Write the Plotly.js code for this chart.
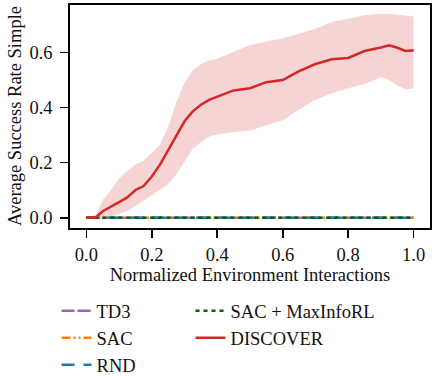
<!DOCTYPE html>
<html><head><meta charset="utf-8">
<script src="https://cdn.plot.ly/plotly-3.0.1.min.js"></script>
<style>body{margin:0;padding:0;background:#fff}#chart{width:435px;height:377px}</style>
</head><body><div id="chart"></div>
<script>
const xs = [0, 0.03, 0.05, 0.075, 0.1, 0.125, 0.15, 0.175, 0.2, 0.225, 0.25, 0.275, 0.3, 0.325, 0.35, 0.375, 0.4, 0.45, 0.5, 0.55, 0.6, 0.65, 0.7, 0.75, 0.8, 0.85, 0.9, 0.925, 0.95, 0.975, 1.0];
const discoverMean = [0, 0.003, 0.024, 0.042, 0.057, 0.074, 0.101, 0.115, 0.15, 0.193, 0.245, 0.295, 0.35, 0.386, 0.41, 0.428, 0.44, 0.462, 0.47, 0.492, 0.5, 0.532, 0.558, 0.575, 0.58, 0.605, 0.618, 0.626, 0.617, 0.605, 0.608];
const discoverUpper = [0, 0.01, 0.065, 0.1, 0.143, 0.17, 0.193, 0.208, 0.235, 0.265, 0.33, 0.42, 0.49, 0.535, 0.558, 0.572, 0.577, 0.602, 0.627, 0.639, 0.651, 0.668, 0.686, 0.71, 0.723, 0.735, 0.74, 0.74, 0.737, 0.733, 0.73];
const discoverLower = [0, 0, 0, 0.004, 0.014, 0.025, 0.043, 0.063, 0.08, 0.1, 0.122, 0.158, 0.205, 0.25, 0.275, 0.295, 0.302, 0.311, 0.317, 0.336, 0.354, 0.393, 0.428, 0.452, 0.47, 0.485, 0.51, 0.5, 0.48, 0.466, 0.469];
const baseX = [0, 1];
const td3 = [0, 0];
const sac = [0, 0];
const rnd = [0, 0];
const maxinfo = [0, 0];
const xTicks = [0, 0.2, 0.4, 0.6, 0.8, 1.0];
const yTicks = [0, 0.2, 0.4, 0.6];
const xTitle = 'Normalized Environment Interactions';
const yTitle = 'Average Success Rate Simple';

const font = {family: 'Liberation Serif, Times New Roman, serif', color: '#111', size: 18.5};
const traces = [
  {x: xs, y: discoverUpper, mode: 'lines', line: {width: 0}, showlegend: false, hoverinfo: 'skip'},
  {x: xs, y: discoverLower, mode: 'lines', line: {width: 0}, fill: 'tonexty', fillcolor: 'rgba(214,39,40,0.2)', showlegend: false, hoverinfo: 'skip'},
  {x: baseX, y: td3, mode: 'lines', name: 'TD3', legendgroup: 'a', line: {color: '#9467bd', width: 2.5, dash: '13px,3px'}, legend: 'legend'},
  {x: baseX, y: sac, mode: 'lines', name: 'SAC', legendgroup: 'b', line: {color: '#ff7f0e', width: 2.5, dash: '9px,3px,2px,3px,2px,3px'}, legend: 'legend'},
  {x: baseX, y: rnd, mode: 'lines', name: 'RND', legendgroup: 'c', line: {color: '#1f77b4', width: 2.5, dash: '13px,9px'}, legend: 'legend'},
  {x: baseX, y: maxinfo, mode: 'lines', name: 'SAC + MaxInfoRL', legendgroup: 'd', line: {color: '#006400', width: 2.5, dash: '4px,4px'}, legend: 'legend2'},
  {x: xs, y: discoverMean, mode: 'lines', name: 'DISCOVER', legendgroup: 'e', line: {color: '#d62728', width: 2.5}, legend: 'legend2'}
];
const axisCommon = {showline: true, linecolor: '#000', linewidth: 1.8, mirror: true, ticks: 'outside', ticklen: 8, tickwidth: 1.6, tickcolor: '#000', showgrid: false, zeroline: false, tickfont: font};
const layout = {
  width: 435, height: 377,
  margin: {l: 70, r: 5, t: 5, b: 149, autoexpand: false},
  paper_bgcolor: '#fff', plot_bgcolor: '#fff',
  font: font,
  xaxis: Object.assign({}, axisCommon, {range: [-0.05, 1.05], tickvals: xTicks, tickformat: '.1f', ticklabelstandoff: 1, automargin: true, title: {text: xTitle, font: font, standoff: 3}}),
  yaxis: Object.assign({}, axisCommon, {range: [-0.037, 0.772], tickvals: yTicks, tickformat: '.1f', ticklabelstandoff: 4, automargin: false}),
  annotations: [{text: yTitle, xref: 'paper', yref: 'paper', x: -0.154, y: 0.5, xanchor: 'center', yanchor: 'middle', textangle: -90, showarrow: false, font: font}],
  legend: {xref: 'container', yref: 'container', x: 0.13, y: 0.225, xanchor: 'left', yanchor: 'top', orientation: 'v', font: font, bgcolor: 'rgba(0,0,0,0)', traceorder: 'grouped', tracegroupgap: 0},
  legend2: {xref: 'container', yref: 'container', x: 0.438, y: 0.225, xanchor: 'left', yanchor: 'top', orientation: 'v', font: font, bgcolor: 'rgba(0,0,0,0)', traceorder: 'grouped', tracegroupgap: 0}
};
Plotly.newPlot('chart', traces, layout, {displayModeBar: false, staticPlot: true});
</script></body></html>
